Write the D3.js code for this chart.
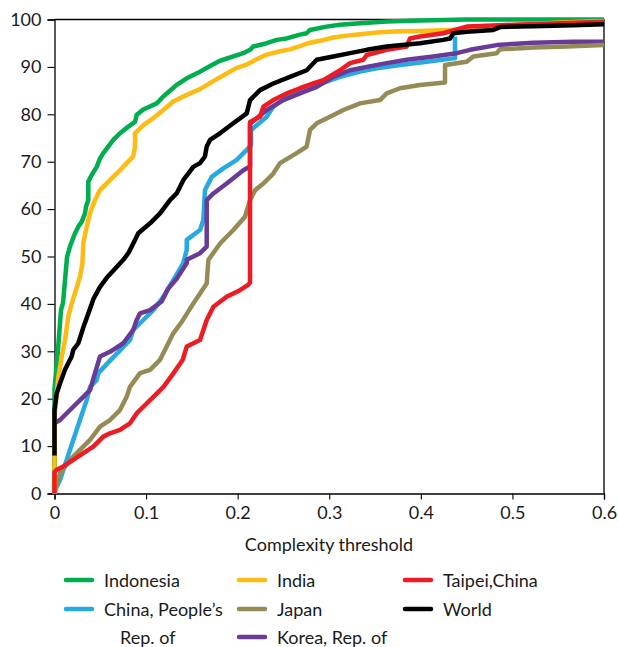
<!DOCTYPE html>
<html><head><meta charset="utf-8">
<script src="https://cdn.jsdelivr.net/npm/d3@7"></script>
<style>
body{margin:0;background:#fff;}
text{font-family:Lato,"Open Sans",sans-serif;fill:#1a1a1a;}
</style></head>
<body><svg id="c" width="618" height="647"></svg>
<script>
const xTicks=[0,0.1,0.2,0.3,0.4,0.5,0.6];
const yTicks=[0,10,20,30,40,50,60,70,80,90,100];
const xTitle="Complexity threshold";
const names=["Indonesia","India","Taipei,China","China, People\u2019s Rep. of","Japan","World","Korea, Rep. of"];
const colors={"Indonesia":"#00ad4f","India":"#fdbb14","Taipei,China":"#ed1c24","China, People\u2019s Rep. of":"#27aae1","Japan":"#958b56","World":"#000000","Korea, Rep. of":"#6a3b96"};

const indonesia=[[0,0],[0,22],[0.0038,30.3],[0.0071,38.7],[0.0093,40.2],[0.0137,49.9],[0.0169,52.1],[0.0224,54.9],[0.026,56.3],[0.0297,57.3],[0.0333,59.1],[0.0344,60.5],[0.0369,61.9],[0.0369,65.8],[0.0406,67.2],[0.0461,68.9],[0.0497,70.7],[0.0533,71.8],[0.0587,73.2],[0.0642,74.6],[0.0715,76.0],[0.0806,77.4],[0.0879,78.4],[0.0898,79.9],[0.097,81.0],[0.1116,82.3],[0.117,83.4],[0.1226,84.4],[0.1334,86.2],[0.1444,87.6],[0.1589,89.0],[0.17,90.2],[0.1807,91.3],[0.1953,92.2],[0.206,92.9],[0.2135,93.6],[0.217,94.3],[0.2317,95.0],[0.2426,95.7],[0.2535,96.0],[0.268,96.8],[0.2753,97.1],[0.279,97.8],[0.297,98.5],[0.3117,98.9],[0.3336,99.2],[0.3627,99.6],[0.399,99.8],[0.45,100],[0.6,100]];
const india=[[0,0],[0,16],[0.0024,21],[0.0042,24.6],[0.0079,28.9],[0.0115,32.4],[0.0151,37.4],[0.0188,40.1],[0.0242,43.4],[0.0278,45.7],[0.0305,48.6],[0.0314,52.8],[0.0352,56.3],[0.0388,59.1],[0.0442,61.9],[0.0497,64.0],[0.0606,66.1],[0.0715,68.2],[0.0788,69.7],[0.086,71.1],[0.0879,73.2],[0.0879,76.0],[0.097,77.7],[0.1079,79.2],[0.1188,80.9],[0.1297,82.7],[0.1444,84.1],[0.1589,85.3],[0.1734,87.0],[0.188,88.6],[0.1989,89.8],[0.2098,90.5],[0.2207,91.6],[0.2317,92.6],[0.2462,93.3],[0.2571,93.7],[0.268,94.4],[0.2789,95.1],[0.2898,95.5],[0.3044,96.2],[0.3189,96.6],[0.3336,96.9],[0.3554,97.3],[0.3773,97.5],[0.399,97.6],[0.433,97.8],[0.45,98.1],[0.4665,98.5],[0.5,98.8],[0.5465,99.3],[0.6,99.7]];
const taipei=[[0,0],[0,4.5],[0.0024,5.0],[0.0096,5.7],[0.0205,7.1],[0.0315,8.5],[0.0424,9.9],[0.0533,12.0],[0.0606,12.7],[0.0715,13.4],[0.0824,14.8],[0.0897,16.9],[0.097,18.3],[0.108,20.4],[0.119,22.5],[0.13,25.4],[0.14,28.2],[0.1444,31.0],[0.1589,32.4],[0.1662,36.6],[0.1735,39.4],[0.188,41.5],[0.2025,42.9],[0.2115,44.0],[0.2135,44.5],[0.2135,78.4],[0.2244,79.5],[0.2281,81.6],[0.2389,83.0],[0.2535,84.4],[0.268,85.5],[0.2826,86.5],[0.2935,87.2],[0.3118,89.3],[0.3227,90.8],[0.3372,91.5],[0.3409,92.5],[0.3627,93.6],[0.3845,94.3],[0.3882,96.0],[0.399,96.4],[0.4245,97.1],[0.4501,98.5],[0.4865,98.8],[0.6,99.5]];
const china=[[0,0],[0.0005,0.7],[0.006,2.8],[0.0133,7.1],[0.0205,11.3],[0.0278,15.5],[0.0351,19.7],[0.0388,22.5],[0.046,23.9],[0.0479,25.4],[0.058,27.5],[0.0715,30.2],[0.0824,32.4],[0.086,34.5],[0.097,36.6],[0.1079,38.7],[0.1188,41.5],[0.1297,45.0],[0.1406,48.6],[0.1444,51.4],[0.1444,53.5],[0.1589,55.6],[0.1625,57.7],[0.1643,64.0],[0.1717,66.8],[0.1843,68.6],[0.199,70.4],[0.2099,72.5],[0.2146,73.5],[0.2146,76.7],[0.2317,79.5],[0.2389,81.6],[0.2535,83.7],[0.268,85.1],[0.2826,85.8],[0.2972,86.9],[0.3118,87.9],[0.3336,89.0],[0.3518,89.7],[0.3773,90.4],[0.4064,91.1],[0.4355,91.8],[0.4373,91.8],[0.4373,96.4]];
const japan=[[0,0],[0.006,4.3],[0.0169,7.1],[0.0278,9.2],[0.0388,11.3],[0.0497,14.1],[0.0606,15.5],[0.0715,17.6],[0.0788,20.4],[0.0824,22.5],[0.0934,25.4],[0.1043,26.1],[0.1152,28.2],[0.1225,31.0],[0.1297,33.8],[0.139,36.2],[0.1516,40.1],[0.1662,44.3],[0.168,49.3],[0.181,52.8],[0.1953,55.6],[0.208,58.4],[0.2135,61.9],[0.219,64.0],[0.2281,65.4],[0.2389,67.5],[0.2462,69.7],[0.2644,71.8],[0.2753,73.2],[0.279,76.7],[0.2863,78.1],[0.3009,79.5],[0.3154,80.9],[0.3336,82.3],[0.3554,83.0],[0.3627,84.4],[0.3773,85.5],[0.399,86.2],[0.4264,86.7],[0.4264,90.4],[0.45,91.1],[0.4573,92.2],[0.4828,92.9],[0.4865,93.7],[0.5228,94.1],[0.5593,94.3],[0.6,94.6]];
const korea=[[0,0],[0,14.8],[0.006,15.5],[0.0205,18.3],[0.0315,20.4],[0.0388,21.8],[0.0442,25.4],[0.0497,28.9],[0.0606,29.9],[0.0751,31.7],[0.086,34.5],[0.0897,36.6],[0.0934,38.0],[0.1043,38.7],[0.117,40.5],[0.124,43.2],[0.1334,45.3],[0.1444,48.6],[0.1444,49.3],[0.1589,50.7],[0.1662,52.1],[0.1662,61.9],[0.1735,63.3],[0.188,65.4],[0.2062,68.2],[0.2135,69.0],[0.2135,78.0],[0.2317,80.9],[0.2499,83.0],[0.268,84.4],[0.2863,85.8],[0.3044,87.9],[0.3227,89.3],[0.3409,90.0],[0.3627,90.8],[0.3845,91.5],[0.4136,92.2],[0.4392,92.9],[0.4537,93.6],[0.4828,94.6],[0.5228,95.1],[0.5665,95.3],[0.6,95.3]];
const world=[[0,8],[0,17.6],[0.0024,21.1],[0.006,23.2],[0.0114,26.1],[0.0187,28.9],[0.0205,30.3],[0.026,31.7],[0.0314,35.0],[0.037,38.0],[0.0424,41.0],[0.0497,43.6],[0.057,45.5],[0.0679,47.8],[0.0751,49.3],[0.0806,50.7],[0.0879,53.5],[0.0915,54.9],[0.1043,57.0],[0.1152,59.1],[0.1261,61.9],[0.1334,63.3],[0.1406,66.1],[0.1516,68.9],[0.1589,69.7],[0.1643,71.1],[0.1662,73.2],[0.1698,74.6],[0.1807,76.0],[0.1952,78.1],[0.2099,80.2],[0.2135,83.0],[0.2244,85.1],[0.2389,86.5],[0.2571,87.9],[0.2754,89.3],[0.2863,91.5],[0.3044,92.2],[0.3227,92.9],[0.3409,93.6],[0.3627,94.3],[0.399,95.0],[0.4245,95.7],[0.4319,96.0],[0.4355,97.1],[0.4501,97.4],[0.4791,97.8],[0.4865,98.4],[0.5228,98.6],[0.5665,98.8],[0.6,99.0]];

// drawing order (bottom to top)
const series=[
 {name:"China, People\u2019s Rep. of",data:china},
 {name:"Korea, Rep. of",data:korea},
 {name:"Japan",data:japan},
 {name:"Indonesia",data:indonesia},
 {name:"India",data:india},
 {name:"Taipei,China",data:taipei},
 {name:"World",data:world}
];

const svg=d3.select("#c");
const L=54.5,R=604,T=19.5,B=493.5;
const x=d3.scaleLinear().domain([0,0.6]).range([L,R]);
const y=d3.scaleLinear().domain([0,100]).range([B,T]);

// frame top/right
svg.append("path").attr("d",`M${L},${T}H${R}V${B}`).attr("fill","none").attr("stroke","#000").attr("stroke-width",1.3);

const xa=svg.append("g").attr("transform",`translate(0,${B})`)
 .call(d3.axisBottom(x).tickValues(xTicks).tickFormat(d=>d===0?"0":d3.format(".1f")(d)).tickSize(6).tickPadding(7));
const ya=svg.append("g").attr("transform",`translate(${L},0)`)
 .call(d3.axisLeft(y).tickValues(yTicks).tickSize(7).tickPadding(6));
[xa,ya].forEach(g=>{
 g.select(".domain").attr("stroke","#000").attr("stroke-width",1.3);
 g.selectAll(".tick line").attr("stroke","#000").attr("stroke-width",1.1);
 g.selectAll("text").style("font-family","Lato,'Open Sans',sans-serif").style("font-size","18px").attr("fill","#1a1a1a");
});

const line=d3.line().x(d=>x(d[0])).y(d=>y(d[1]));
svg.append("g").selectAll("path").data(series).join("path")
 .attr("d",d=>line(d.data)).attr("fill","none")
 .attr("stroke",d=>colors[d.name]).attr("stroke-width",4.5)
 .attr("stroke-linejoin","round").attr("stroke-linecap","butt");

svg.append("text").attr("x",329).attr("y",551).attr("text-anchor","middle")
 .style("font-size","18px").text(xTitle);

// legend
const legCols=[64,237,403], legRows=[580,609,637];
const legPos=[[0,0],[1,0],[2,0],[0,1],[1,1],[2,1],[1,2]];
const lg=svg.append("g");
names.forEach((n,i)=>{
 const [c,r]=legPos[i];
 const cx=legCols[c], cy=legRows[r];
 lg.append("line").attr("x1",cx+2).attr("x2",cx+28).attr("y1",cy).attr("y2",cy)
  .attr("stroke",colors[n]).attr("stroke-width",4.5).attr("stroke-linecap","round");
 if(n.startsWith("China")){
  lg.append("text").attr("x",cx+40).attr("y",cy+6.5).style("font-size","18px").text("China, People\u2019s");
  lg.append("text").attr("x",cx+56).attr("y",legRows[2]+6.5).style("font-size","18px").text("Rep. of");
 } else {
  lg.append("text").attr("x",cx+40).attr("y",cy+6.5).style("font-size","18px").text(n);
 }
});
</script></body></html>
